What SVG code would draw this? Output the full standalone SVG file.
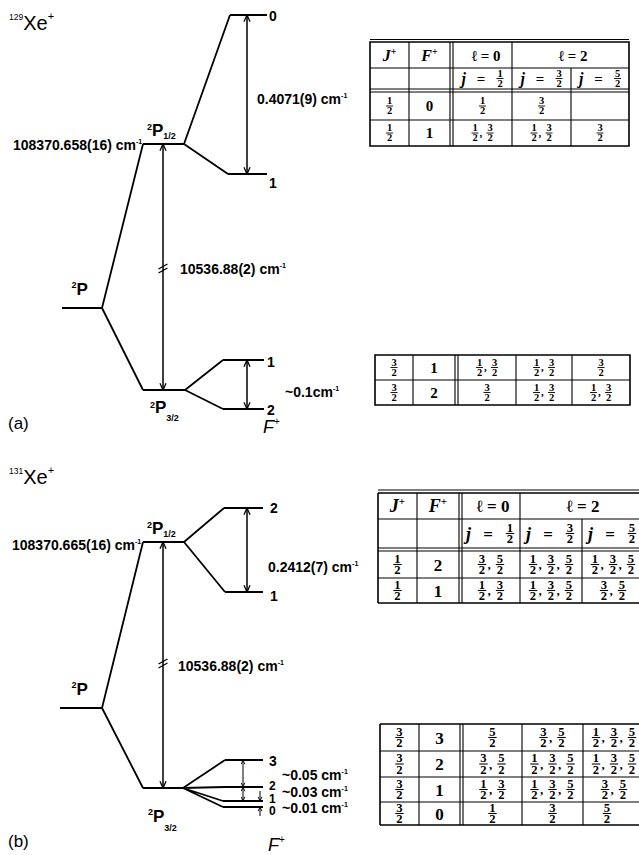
<svg xmlns="http://www.w3.org/2000/svg" width="639" height="855" viewBox="0 0 639 855">
<defs>
<style>
.lv{stroke:#000;stroke-width:2;fill:none}
.cn{stroke:#000;stroke-width:1.8;fill:none}
.ar{stroke:#000;stroke-width:1.5;fill:none;marker-start:url(#ah);marker-end:url(#ah)}
.ars{stroke:#000;stroke-width:1;fill:none;marker-start:url(#as);marker-end:url(#as)}
.are{stroke:#000;stroke-width:1;fill:none;marker-end:url(#as)}
.bk{stroke:#000;stroke-width:1.3;fill:none}
.sf{font-family:"Liberation Sans",Arial,sans-serif;fill:#000}
.lb{font-family:"Liberation Sans",Arial,sans-serif;font-weight:bold;font-size:14px}
.nm{font-family:"Liberation Sans",Arial,sans-serif;font-weight:bold;font-size:14px}
.nt{font-family:"Liberation Sans",Arial,sans-serif;font-weight:bold;font-size:12px}
.pp{font-family:"Liberation Sans",Arial,sans-serif;font-weight:bold;font-size:17px}
.ss{font-family:"Liberation Sans",Arial,sans-serif;font-weight:bold;font-size:9px}
.sx{font-size:7px}
.tl{stroke:#000;stroke-width:1.1;fill:none}
.to{stroke:#000;stroke-width:1.6;fill:none}
.fn{font-family:"Liberation Serif","Times New Roman",serif;font-weight:bold;font-size:10.5px;text-anchor:middle}
.fb{stroke:#000;stroke-width:0.9}
.cm{font-family:"Liberation Serif",serif;font-weight:bold;font-size:11px}
.cm2{font-family:"Liberation Serif",serif;font-weight:bold;font-size:13px}
.tn{font-family:"Liberation Serif","Times New Roman",serif;font-weight:bold;font-size:15px;text-anchor:middle}
.tb{font-family:"Liberation Serif","Times New Roman",serif;font-weight:bold;font-size:17px;text-anchor:middle}
.ti{font-family:"Liberation Serif","Times New Roman",serif;font-weight:bold;font-style:italic;font-size:16px}
.tj{font-family:"Liberation Serif","Times New Roman",serif;font-weight:bold;font-style:italic;font-size:18px}
</style>
<marker id="ah" viewBox="0 0 10 10" refX="9.5" refY="5" markerWidth="8" markerHeight="8" markerUnits="userSpaceOnUse" orient="auto-start-reverse"><path d="M1,1.2L9.5,5L1,8.8" fill="none" stroke="#000" stroke-width="1.6"/></marker>
<marker id="as" viewBox="0 0 10 10" refX="9.5" refY="5" markerWidth="5" markerHeight="5" markerUnits="userSpaceOnUse" orient="auto-start-reverse"><path d="M1,1.2L9.5,5L1,8.8" fill="none" stroke="#000" stroke-width="1.8"/></marker>
<g id="f1"><text class="fn" x="0" y="-1.6">1</text><path class="fb" d="M-3.5,0H3.5"/><text class="fn" x="0" y="8.2">2</text></g>
<g id="f3"><text class="fn" x="0" y="-1.6">3</text><path class="fb" d="M-3.5,0H3.5"/><text class="fn" x="0" y="8.2">2</text></g>
<g id="f5"><text class="fn" x="0" y="-1.6">5</text><path class="fb" d="M-3.5,0H3.5"/><text class="fn" x="0" y="8.2">2</text></g>
</defs>
<rect width="639" height="855" fill="#fff"/>

<!-- ===== Panel (a) ===== -->
<g id="a-title"><text class="sf" x="9" y="30"><tspan font-size="8.5" dy="-10">129</tspan><tspan font-size="20" dy="10">Xe</tspan><tspan font-size="11" dy="-10">+</tspan></text></g>

<g id="a-connectors">
<path class="cn" d="M102,308L143,144M102,308L143,390M184,144L230,15M184,144L228,174M185,390L223,360M185,390L223,409"/>
<path class="ar" d="M163,144V390"/>
<path class="ar" d="M247,15V174"/>
<path class="ar" d="M247,360V409"/>
<path class="bk" d="M158.5,269L167.5,264M158.5,273L167.5,268"/>
<text class="lb" x="257" y="104">0.4071(9) cm<tspan class="sx" dy="-6">-1</tspan></text>
<text class="lb" x="180" y="274">10536.88(2) cm<tspan class="sx" dy="-6">-1</tspan></text>
<text class="lb" x="285" y="397">~0.1cm<tspan class="sx" dy="-6">-1</tspan></text>
</g>

<g id="a-2P"><path class="lv" d="M62,308H102"/><text class="pp" x="71.5" y="295"><tspan class="ss" dy="-7">2</tspan><tspan dy="7">P</tspan></text></g>
<g id="a-2P12"><path class="lv" d="M143,144H184"/><text class="pp" x="147" y="136"><tspan class="ss" dy="-6">2</tspan><tspan dy="6">P</tspan><tspan class="ss" dy="3">1/2</tspan></text>
<text class="lb" x="13" y="150">108370.658(16) cm<tspan class="sx" dy="-6">-1</tspan></text></g>
<g id="a-F0"><path class="lv" d="M230,15H267"/><text class="nm" x="269" y="21">0</text></g>
<g id="a-F1u"><path class="lv" d="M228,174H267"/><text class="nm" x="269" y="188">1</text></g>
<g id="a-2P32"><path class="lv" d="M143,390H185"/><text class="pp" x="150" y="413"><tspan class="ss" dy="-5">2</tspan><tspan dy="5">P</tspan><tspan class="ss" dy="8">3/2</tspan></text></g>
<g id="a-F1l"><path class="lv" d="M223,360H264"/><text class="nm" x="267" y="367">1</text></g>
<g id="a-F2"><path class="lv" d="M223,409H264"/><text class="nm" x="267" y="415">2</text></g>
<g id="a-labels"><text class="sf" x="8" y="429" font-size="17">(a)</text>
<text class="sf" x="263" y="433" font-size="18" font-style="italic">F<tspan font-style="normal" font-size="10" dy="-8">+</tspan></text></g>

<!-- Table (a) upper -->
<g id="table-a1">
<path class="tl" d="M370,39.5H629"/>
<path class="to" d="M370,42H629V146H370Z"/>
<path class="tl" d="M370,68H629M370,89H629M370,92H629M370,120H629M409,42V146M450,42V146M453,42V146M512,42V146M571,68V146"/>
<text class="ti" x="389.5" y="61" text-anchor="middle">J<tspan font-style="normal" font-size="10" dy="-6">+</tspan></text>
<text class="ti" x="429.5" y="61" text-anchor="middle">F<tspan font-style="normal" font-size="10" dy="-6">+</tspan></text>
<text class="tn" x="486" y="61" font-size="17">ℓ = 0</text>
<text class="tn" x="573" y="61" font-size="17">ℓ = 2</text>
<text class="ti" x="461.5" y="84">j</text><text class="tn" x="481" y="84">=</text><use href="#f1" x="500" y="78.5"/>
<text class="ti" x="520.5" y="84">j</text><text class="tn" x="540" y="84">=</text><use href="#f3" x="559" y="78.5"/>
<text class="ti" x="579" y="84">j</text><text class="tn" x="598.5" y="84">=</text><use href="#f5" x="617.5" y="78.5"/>
<use href="#f1" x="389.5" y="106"/><text class="tn" x="429.5" y="111">0</text><use href="#f1" x="482.5" y="106"/><use href="#f3" x="541.5" y="106"/>
<use href="#f1" x="389.5" y="133"/><text class="tn" x="429.5" y="138">1</text>
<use href="#f1" x="475" y="133"/><text class="cm" x="479.5" y="136.5">,</text><use href="#f3" x="490" y="133"/>
<use href="#f1" x="534" y="133"/><text class="cm" x="538.5" y="136.5">,</text><use href="#f3" x="549" y="133"/>
<use href="#f3" x="600" y="133"/>
</g>

<!-- Table (a) lower -->
<g id="table-a2">
<path class="to" d="M375,355H630V405H375Z"/>
<path class="tl" d="M375,380H630M413,355V405M455,355V405M458,355V405M516,355V405M572,355V405"/>
<use href="#f3" x="394" y="367.5"/><text class="tn" x="434" y="372.5">1</text>
<use href="#f1" x="479.5" y="367.5"/><text class="cm" x="484" y="371">,</text><use href="#f3" x="494.5" y="367.5"/>
<use href="#f1" x="536.5" y="367.5"/><text class="cm" x="541" y="371">,</text><use href="#f3" x="551.5" y="367.5"/>
<use href="#f3" x="601" y="367.5"/>
<use href="#f3" x="394" y="392.5"/><text class="tn" x="434" y="397.5">2</text>
<use href="#f3" x="487" y="392.5"/>
<use href="#f1" x="536.5" y="392.5"/><text class="cm" x="541" y="396">,</text><use href="#f3" x="551.5" y="392.5"/>
<use href="#f1" x="593.5" y="392.5"/><text class="cm" x="598" y="396">,</text><use href="#f3" x="608.5" y="392.5"/>
</g>

<!-- ===== Panel (b) ===== -->
<g id="b-title"><text class="sf" x="9" y="484"><tspan font-size="8.5" dy="-10">131</tspan><tspan font-size="20" dy="10">Xe</tspan><tspan font-size="11" dy="-10">+</tspan></text></g>

<g id="b-connectors">
<path class="cn" d="M102,708L143,542M102,708L143,788M184,542L224,508M184,542L225,592M183,788L225,760M183,788L225,787M183,788L223,801M183,788L223,807"/>
<path class="ar" d="M163,542V788"/>
<path class="ar" d="M247,508V592"/>
<path class="ars" d="M243,760V787"/>
<path class="ars" d="M243,787V801"/>
<path class="are" d="M260,791V801"/>
<path class="are" d="M260,816V807"/>
<path class="bk" d="M158.5,664L167.5,659M158.5,668L167.5,663"/>
<text class="lb" x="268" y="572">0.2412(7) cm<tspan class="sx" dy="-6">-1</tspan></text>
<text class="lb" x="178" y="671">10536.88(2) cm<tspan class="sx" dy="-6">-1</tspan></text>
<text class="lb" x="282" y="780">~0.05 cm<tspan class="sx" dy="-6">-1</tspan></text>
<text class="lb" x="282" y="797">~0.03 cm<tspan class="sx" dy="-6">-1</tspan></text>
<text class="lb" x="282" y="813">~0.01 cm<tspan class="sx" dy="-6">-1</tspan></text>
</g>

<g id="b-2P"><path class="lv" d="M60,708H102"/><text class="pp" x="71.5" y="695"><tspan class="ss" dy="-7">2</tspan><tspan dy="7">P</tspan></text></g>
<g id="b-2P12"><path class="lv" d="M143,542H184"/><text class="pp" x="147" y="534"><tspan class="ss" dy="-6">2</tspan><tspan dy="6">P</tspan><tspan class="ss" dy="3">1/2</tspan></text>
<text class="lb" x="12" y="550">108370.665(16) cm<tspan class="sx" dy="-6">-1</tspan></text></g>
<g id="b-F2u"><path class="lv" d="M224,508H263"/><text class="nm" x="270" y="513">2</text></g>
<g id="b-F1u"><path class="lv" d="M225,592H263"/><text class="nm" x="270" y="601">1</text></g>
<g id="b-2P32"><path class="lv" d="M143,788H183"/><text class="pp" x="148" y="822"><tspan class="ss" dy="-7">2</tspan><tspan dy="7">P</tspan><tspan class="ss" dy="9">3/2</tspan></text></g>
<g id="b-F3"><path class="lv" d="M225,760H263"/><text class="nm" x="269" y="766">3</text></g>
<g id="b-F2l"><path class="lv" d="M225,787H263"/><text class="nt" x="269" y="790">2</text></g>
<g id="b-F1l"><path class="lv" d="M223,801H263"/><text class="nt" x="269" y="802.5">1</text></g>
<g id="b-F0"><path class="lv" d="M223,807H263"/><text class="nt" x="269" y="815">0</text></g>
<g id="b-labels"><text class="sf" x="8" y="847" font-size="17">(b)</text>
<text class="sf" x="268" y="851" font-size="18" font-style="italic">F<tspan font-style="normal" font-size="10" dy="-8">+</tspan></text></g>

<!-- Table (b) upper -->
<g id="table-b1">
<path class="tl" d="M378,490H639"/>
<path class="to" d="M378,493H645M378,603H645M378,493V603"/>
<path class="tl" d="M378,519H645M378,548H645M378,551H645M378,578H645M417,493V603M459,493V603M462,493V603M520,493V603M582,519V603"/>
<text class="tj" x="397.5" y="512" text-anchor="middle">J<tspan font-style="normal" font-size="11" dy="-7">+</tspan></text>
<text class="tj" x="438" y="512" text-anchor="middle">F<tspan font-style="normal" font-size="11" dy="-7">+</tspan></text>
<text class="tb" x="493" y="512" font-size="19">ℓ = 0</text>
<text class="tb" x="583" y="512" font-size="19">ℓ = 2</text>
<text class="tj" x="466" y="540">j</text><text class="tb" x="488" y="540">=</text><use href="#f1" transform="translate(510,533.5) scale(1.2)"/>
<text class="tj" x="526" y="540">j</text><text class="tb" x="548" y="540">=</text><use href="#f3" transform="translate(570,533.5) scale(1.2)"/>
<text class="tj" x="588" y="540">j</text><text class="tb" x="610" y="540">=</text><use href="#f5" transform="translate(632,533.5) scale(1.2)"/>
<use href="#f1" transform="translate(397.5,564.5) scale(1.2)"/><text class="tb" x="438" y="570.5">2</text>
<use href="#f3" transform="translate(482,564.5) scale(1.2)"/><text class="cm2" x="487.5" y="569">,</text><use href="#f5" transform="translate(500,564.5) scale(1.2)"/>
<use href="#f1" transform="translate(533,564.5) scale(1.2)"/><text class="cm2" x="538.5" y="569">,</text><use href="#f3" transform="translate(551,564.5) scale(1.2)"/><text class="cm2" x="556.5" y="569">,</text><use href="#f5" transform="translate(569,564.5) scale(1.2)"/>
<use href="#f1" transform="translate(595,564.5) scale(1.2)"/><text class="cm2" x="600.5" y="569">,</text><use href="#f3" transform="translate(613,564.5) scale(1.2)"/><text class="cm2" x="618.5" y="569">,</text><use href="#f5" transform="translate(631,564.5) scale(1.2)"/>
<use href="#f1" transform="translate(397.5,590.5) scale(1.2)"/><text class="tb" x="438" y="596.5">1</text>
<use href="#f1" transform="translate(482,590.5) scale(1.2)"/><text class="cm2" x="487.5" y="595">,</text><use href="#f3" transform="translate(500,590.5) scale(1.2)"/>
<use href="#f1" transform="translate(533,590.5) scale(1.2)"/><text class="cm2" x="538.5" y="595">,</text><use href="#f3" transform="translate(551,590.5) scale(1.2)"/><text class="cm2" x="556.5" y="595">,</text><use href="#f5" transform="translate(569,590.5) scale(1.2)"/>
<use href="#f3" transform="translate(604,590.5) scale(1.2)"/><text class="cm2" x="609.5" y="595">,</text><use href="#f5" transform="translate(622,590.5) scale(1.2)"/>
</g>

<!-- Table (b) lower -->
<g id="table-b2">
<path class="to" d="M380,724H645M380,825H645M380,724V825"/>
<path class="tl" d="M380,751H645M380,777H645M380,802H645M419,724V825M460,724V825M463,724V825M522,724V825M583,724V825"/>
<use href="#f3" transform="translate(399.5,737.5) scale(1.2)"/><text class="tb" x="439.5" y="743.5">3</text>
<use href="#f5" transform="translate(492.5,737.5) scale(1.2)"/>
<use href="#f3" transform="translate(543.5,737.5) scale(1.2)"/><text class="cm2" x="549" y="742">,</text><use href="#f5" transform="translate(561.5,737.5) scale(1.2)"/>
<use href="#f1" transform="translate(596,737.5) scale(1.2)"/><text class="cm2" x="601.5" y="742">,</text><use href="#f3" transform="translate(614,737.5) scale(1.2)"/><text class="cm2" x="619.5" y="742">,</text><use href="#f5" transform="translate(632,737.5) scale(1.2)"/>
<use href="#f3" transform="translate(399.5,764) scale(1.2)"/><text class="tb" x="439.5" y="770">2</text>
<use href="#f3" transform="translate(483.5,764) scale(1.2)"/><text class="cm2" x="489" y="768.5">,</text><use href="#f5" transform="translate(501.5,764) scale(1.2)"/>
<use href="#f1" transform="translate(534.5,764) scale(1.2)"/><text class="cm2" x="540" y="768.5">,</text><use href="#f3" transform="translate(552.5,764) scale(1.2)"/><text class="cm2" x="558" y="768.5">,</text><use href="#f5" transform="translate(570.5,764) scale(1.2)"/>
<use href="#f1" transform="translate(596,764) scale(1.2)"/><text class="cm2" x="601.5" y="768.5">,</text><use href="#f3" transform="translate(614,764) scale(1.2)"/><text class="cm2" x="619.5" y="768.5">,</text><use href="#f5" transform="translate(632,764) scale(1.2)"/>
<use href="#f3" transform="translate(399.5,789.5) scale(1.2)"/><text class="tb" x="439.5" y="795.5">1</text>
<use href="#f1" transform="translate(483.5,789.5) scale(1.2)"/><text class="cm2" x="489" y="794">,</text><use href="#f3" transform="translate(501.5,789.5) scale(1.2)"/>
<use href="#f1" transform="translate(534.5,789.5) scale(1.2)"/><text class="cm2" x="540" y="794">,</text><use href="#f3" transform="translate(552.5,789.5) scale(1.2)"/><text class="cm2" x="558" y="794">,</text><use href="#f5" transform="translate(570.5,789.5) scale(1.2)"/>
<use href="#f3" transform="translate(605,789.5) scale(1.2)"/><text class="cm2" x="610.5" y="794">,</text><use href="#f5" transform="translate(623,789.5) scale(1.2)"/>
<use href="#f3" transform="translate(399.5,813.5) scale(1.2)"/><text class="tb" x="439.5" y="819.5">0</text>
<use href="#f1" transform="translate(492.5,813.5) scale(1.2)"/>
<use href="#f3" transform="translate(552.5,813.5) scale(1.2)"/>
<use href="#f5" transform="translate(607,813.5) scale(1.2)"/>
</g>
</svg>
